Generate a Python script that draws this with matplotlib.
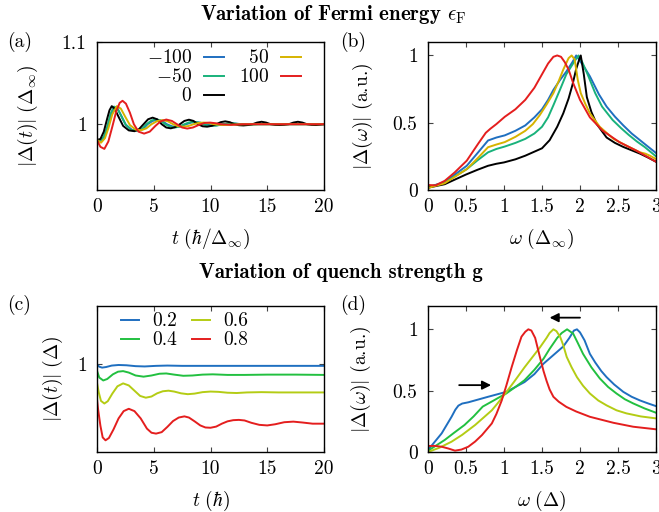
import matplotlib
matplotlib.use('Agg')
import matplotlib.pyplot as plt
import matplotlib.ticker as mticker

plt.rcParams.update({
    'font.family': 'cmr10',
    'mathtext.fontset': 'cm',
    'axes.unicode_minus': False,
    'font.size': 14,
    'axes.linewidth': 1.0,
    'xtick.direction': 'in',
    'ytick.direction': 'in',
    'xtick.top': True,
    'ytick.right': True,
    'xtick.major.size': 3.5,
    'ytick.major.size': 3.5,
    'xtick.major.pad': 6,
    'ytick.major.pad': 7.5,
    'xtick.color': '#444444',
    'ytick.color': '#444444',
    'xtick.labelcolor': 'black',
    'ytick.labelcolor': 'black',
})

BLUE = '#1f6fc0'
TEAL = '#19b27b'
GOLD = '#d6b300'
RED = '#e41e1e'
GREEN = '#22c040'
LIME = '#b4cc14'

# ---- (a) |Delta(t)| for several Fermi energies ----
ef_labels = [r'$-100$', r'$\hspace{0.5}{-50}$', r'$\hspace{1.78}0$', r'$\hspace{0.5}50$', r'$100$']

t_a_m100 = [0, 0.3, 0.6, 0.9, 1.25, 1.55, 1.85, 2.15, 2.55, 3.1, 3.65, 4.05, 4.45, 4.9, 5.35, 5.75, 6.15,
            6.6, 7.0, 7.4, 7.85, 8.3, 8.7, 9.1, 9.55, 10.0, 10.4, 10.8, 11.2, 12.0, 12.8, 20]
d_a_m100 = [0.981, 0.979, 0.983, 0.994, 1.012, 1.021, 1.018, 1.010, 0.999, 0.993, 0.9925, 0.994, 1.0, 1.004,
            1.0055, 1.004, 1.0, 0.9975, 0.9965, 0.9975, 1.0, 1.002, 1.0025, 1.002, 1.0, 0.9988, 0.9985, 0.999,
            1.0, 1.001, 1.0, 1.0]

t_a_m50 = [0, 0.3, 0.6, 0.9, 1.2, 1.5, 1.8, 2.1, 2.5, 3.0, 3.55, 3.95, 4.35, 4.8, 5.2, 5.6, 6.0, 6.45, 6.85,
           7.25, 7.7, 8.1, 8.5, 8.9, 9.3, 9.75, 10.15, 10.55, 11.0, 11.8, 12.6, 13.4, 14.2, 20]
d_a_m50 = [0.981, 0.980, 0.985, 0.997, 1.013, 1.0215, 1.019, 1.011, 1.0, 0.993, 0.992, 0.994, 1.0, 1.0045,
           1.006, 1.0045, 1.0, 0.997, 0.996, 0.997, 1.0, 1.0022, 1.003, 1.0022, 1.0, 0.9985, 0.998, 0.9985,
           1.0, 1.0015, 1.0, 0.999, 1.0, 1.0]

t_a_0 = [0, 0.3, 0.6, 0.9, 1.1, 1.3, 1.55, 1.9, 2.3, 2.8, 3.3, 3.7, 4.1, 4.5, 4.9, 5.3, 5.7, 6.1, 6.5, 6.9,
         7.3, 7.7, 8.1, 8.5, 8.9, 9.3, 9.7, 10.1, 10.5, 10.9, 11.3, 11.7, 12.1, 12.5, 12.9, 13.3, 13.7, 14.1,
         14.5, 14.9, 15.3, 15.7, 16.1, 16.5, 16.9, 17.3, 17.7, 18.1, 18.5, 18.9, 19.3, 19.7, 20]
d_a_0 = [0.981, 0.982, 0.991, 1.007, 1.017, 1.022, 1.019, 1.009, 0.998, 0.9925, 0.9915, 0.994, 1.0, 1.006,
         1.008, 1.006, 1.0, 0.996, 0.995, 0.9965, 1.0, 1.004, 1.0055, 1.004, 1.0, 0.9975, 0.997, 0.998, 1.0,
         1.0025, 1.0035, 1.0025, 1.0, 0.9988, 0.9985, 0.999, 1.0, 1.002, 1.003, 1.002, 1.0, 0.9992, 0.999,
         0.9993, 1.0, 1.002, 1.003, 1.002, 1.0, 0.9992, 0.999, 0.9995, 1.0]

t_a_50 = [0, 0.35, 0.7, 1.0, 1.35, 1.75, 2.1, 2.45, 2.9, 3.4, 3.9, 4.35, 4.8, 5.3, 5.8, 6.25, 6.7, 7.15, 7.6,
          8.05, 8.5, 8.95, 9.4, 9.85, 10.3, 11.1, 11.9, 13, 20]
d_a_50 = [0.981, 0.9775, 0.983, 0.995, 1.012, 1.022, 1.019, 1.010, 0.999, 0.9935, 0.9927, 0.995, 1.0, 1.0038,
          1.005, 1.0035, 1.0, 0.9975, 0.997, 0.9978, 1.0, 1.0015, 1.002, 1.0015, 1.0, 0.999, 0.9995, 1.0, 1.0]

t_a_100 = [0, 0.3, 0.65, 1.0, 1.35, 1.7, 2.0, 2.25, 2.55, 2.9, 3.25, 3.65, 4.15, 4.65, 5.15, 5.6, 6.1, 6.6,
           7.05, 7.5, 7.95, 8.45, 8.95, 9.45, 9.95, 10.45, 10.9, 11.8, 12.8, 20]
d_a_100 = [0.9805, 0.9725, 0.970, 0.979, 0.997, 1.016, 1.026, 1.0285, 1.025, 1.014, 1.0, 0.991, 0.9886, 0.991,
           0.998, 1.0035, 1.0057, 1.004, 1.0, 0.996, 0.9947, 0.996, 0.999, 1.0015, 1.002, 1.0012, 1.0, 0.9992,
           1.0, 1.0]

# ---- (b) |Delta(omega)| for several Fermi energies ----
w_b_m100 = [0, 0.22, 0.51, 0.66, 0.79, 0.9, 1.01, 1.15, 1.28, 1.4, 1.5, 1.58, 1.65, 1.74, 1.82, 1.9, 1.95,
            2.0, 2.07, 2.13, 2.25, 2.35, 2.46, 2.57, 2.68, 2.79, 2.9, 3.0]
s_b_m100 = [0.02, 0.06, 0.18, 0.28, 0.368, 0.39, 0.406, 0.44, 0.48, 0.54, 0.60, 0.67, 0.744, 0.82, 0.88, 0.95,
            1.0, 0.96, 0.9, 0.845, 0.71, 0.62, 0.545, 0.48, 0.42, 0.37, 0.32, 0.275]
w_b_m50 = [0, 0.22, 0.51, 0.65, 0.79, 0.9, 1.01, 1.15, 1.28, 1.4, 1.5, 1.58, 1.65, 1.74, 1.82, 1.92, 1.98,
           2.03, 2.1, 2.2, 2.29, 2.43, 2.54, 2.64, 2.75, 2.85, 3.0]
s_b_m50 = [0.02, 0.055, 0.155, 0.22, 0.28, 0.305, 0.323, 0.35, 0.38, 0.42, 0.47, 0.54, 0.63, 0.75, 0.86, 0.95,
           1.0, 0.95, 0.86, 0.72, 0.62, 0.52, 0.46, 0.41, 0.36, 0.32, 0.25]
w_b_0 = [0, 0.22, 0.5, 0.65, 0.79, 0.9, 1.0, 1.15, 1.28, 1.4, 1.5, 1.6, 1.7, 1.78, 1.85, 1.9, 1.95, 1.99,
         2.01, 2.05, 2.09, 2.15, 2.22, 2.35, 2.46, 2.57, 2.68, 2.79, 2.9, 3.0]
s_b_0 = [0.017, 0.043, 0.115, 0.15, 0.18, 0.195, 0.205, 0.228, 0.255, 0.285, 0.31, 0.37, 0.47, 0.57, 0.68,
         0.78, 0.9, 0.97, 1.0, 0.86, 0.69, 0.58, 0.49, 0.39, 0.35, 0.32, 0.295, 0.27, 0.24, 0.21]
w_b_50 = [0, 0.22, 0.51, 0.66, 0.79, 0.9, 1.01, 1.15, 1.28, 1.38, 1.47, 1.56, 1.65, 1.72, 1.78, 1.85, 1.89,
          1.93, 1.97, 2.01, 2.07, 2.13, 2.26, 2.44, 2.61, 2.79, 2.86, 2.92, 3.0]
s_b_50 = [0.015, 0.05, 0.155, 0.24, 0.318, 0.338, 0.356, 0.395, 0.44, 0.49, 0.556, 0.635, 0.72, 0.81, 0.895,
          0.98, 1.0, 0.97, 0.82, 0.72, 0.64, 0.57, 0.47, 0.38, 0.33, 0.28, 0.27, 0.255, 0.23]
w_b_100 = [0, 0.1, 0.22, 0.35, 0.51, 0.66, 0.76, 0.82, 0.9, 1.01, 1.15, 1.28, 1.4, 1.5, 1.58, 1.65, 1.7, 1.75,
           1.8, 1.85, 1.91, 2.0, 2.13, 2.3, 2.52, 2.74, 3.0]
s_b_100 = [0.037, 0.035, 0.068, 0.13, 0.218, 0.344, 0.425, 0.455, 0.49, 0.544, 0.60, 0.67, 0.76, 0.86, 0.94,
           0.99, 1.0, 0.99, 0.95, 0.895, 0.795, 0.67, 0.54, 0.44, 0.355, 0.293, 0.21]

# ---- (c) |Delta(t)| for several quench strengths ----
g_labels = ['0.2', '0.4', '0.6', '0.8']

t_c_02 = [0, 0.2, 0.45, 0.8, 1.3, 1.9, 2.6, 3.4, 4.2, 5.2, 6.2, 7.5, 9, 11, 14, 17, 20]
d_c_02 = [1.0, 0.992, 0.989, 0.991, 0.996, 0.998, 0.997, 0.994, 0.993, 0.995, 0.996, 0.995, 0.995, 0.995,
          0.995, 0.995, 0.995]
t_c_04 = [0, 0.2, 0.55, 0.9, 1.4, 1.85, 2.3, 2.8, 3.4, 4.1, 4.8, 5.5, 6.1, 6.8, 7.6, 8.4, 9.3, 10.2, 11.5,
          13, 15, 17.5, 20]
d_c_04 = [0.978, 0.955, 0.945, 0.950, 0.966, 0.975, 0.977, 0.972, 0.962, 0.958, 0.962, 0.968, 0.969, 0.965,
          0.961, 0.962, 0.965, 0.966, 0.964, 0.964, 0.965, 0.965, 0.964]
t_c_06 = [0, 0.15, 0.35, 0.65, 0.95, 1.35, 1.8, 2.3, 2.8, 3.3, 3.8, 4.3, 4.8, 5.3, 5.8, 6.3, 6.8, 7.4, 8.0,
          8.6, 9.3, 10.0, 10.7, 11.5, 12.3, 13.2, 14.5, 16, 18, 20]
d_c_06 = [0.937, 0.905, 0.875, 0.866, 0.874, 0.900, 0.925, 0.935, 0.928, 0.910, 0.892, 0.886, 0.890, 0.901,
          0.908, 0.910, 0.907, 0.901, 0.898, 0.900, 0.905, 0.907, 0.906, 0.903, 0.902, 0.904, 0.905, 0.904,
          0.904, 0.904]
t_c_08 = [0, 0.1, 0.3, 0.5, 0.75, 1.05, 1.45, 1.9, 2.35, 2.8, 3.3, 3.85, 4.4, 4.8, 5.2, 5.7, 6.2, 6.7, 7.2,
          7.7, 8.1, 8.6, 9.1, 9.55, 10.0, 10.5, 11.0, 11.5, 12.0, 12.5, 13.0, 13.6, 14.3, 15.0, 15.7, 16.5,
          17.3, 18.1, 19.0, 20]
d_c_08 = [0.880, 0.845, 0.790, 0.750, 0.740, 0.748, 0.777, 0.815, 0.840, 0.848, 0.840, 0.815, 0.780, 0.766,
          0.763, 0.768, 0.786, 0.806, 0.818, 0.822, 0.818, 0.805, 0.791, 0.784, 0.783, 0.787, 0.797, 0.805,
          0.809, 0.810, 0.808, 0.800, 0.793, 0.791, 0.795, 0.802, 0.804, 0.801, 0.797, 0.797]

# ---- (d) |Delta(omega)| for several quench strengths ----
w_d_02 = [0, 0.18, 0.31, 0.36, 0.4, 0.45, 0.53, 0.79, 1.03, 1.27, 1.4, 1.52, 1.65, 1.78, 1.86, 1.92, 1.96,
          2.0, 2.06, 2.13, 2.2, 2.28, 2.35, 2.45, 2.57, 2.68, 2.79, 2.9, 3.0]
s_d_02 = [0.016, 0.152, 0.287, 0.345, 0.378, 0.395, 0.405, 0.45, 0.49, 0.57, 0.635, 0.72, 0.79, 0.86, 0.93,
          0.99, 1.0, 0.975, 0.91, 0.80, 0.73, 0.66, 0.61, 0.55, 0.49, 0.45, 0.42, 0.395, 0.374]
w_d_04 = [0, 0.22, 0.35, 0.48, 0.6, 0.72, 0.85, 0.95, 1.03, 1.15, 1.27, 1.4, 1.52, 1.6, 1.7, 1.76, 1.83, 1.91,
          1.97, 2.04, 2.15, 2.26, 2.37, 2.48, 2.59, 2.7, 2.85, 3.0]
s_d_04 = [0.01, 0.098, 0.16, 0.22, 0.29, 0.37, 0.415, 0.45, 0.477, 0.53, 0.585, 0.67, 0.76, 0.84, 0.93, 0.97,
          1.0, 0.965, 0.89, 0.80, 0.69, 0.60, 0.53, 0.477, 0.43, 0.396, 0.355, 0.32]
w_d_06 = [0, 0.15, 0.31, 0.45, 0.62, 0.73, 0.84, 0.92, 1.0, 1.13, 1.27, 1.37, 1.47, 1.56, 1.6, 1.65, 1.69,
          1.74, 1.78, 1.825, 1.89, 1.96, 2.04, 2.13, 2.24, 2.35, 2.48, 2.61, 2.8, 3.0]
s_d_06 = [0.0, 0.035, 0.084, 0.14, 0.22, 0.28, 0.34, 0.40, 0.463, 0.57, 0.69, 0.77, 0.85, 0.93, 0.97, 1.0,
          0.985, 0.937, 0.87, 0.775, 0.69, 0.61, 0.54, 0.477, 0.42, 0.38, 0.34, 0.315, 0.29, 0.274]
w_d_08 = [0, 0.09, 0.18, 0.27, 0.355, 0.44, 0.53, 0.62, 0.71, 0.84, 0.9, 0.97, 1.03, 1.1, 1.17, 1.23, 1.28,
          1.32, 1.36, 1.41, 1.47, 1.52, 1.56, 1.6, 1.65, 1.72, 1.82, 1.95, 2.13, 2.44, 2.7, 3.0]
s_d_08 = [0.049, 0.05, 0.043, 0.028, 0.011, 0.02, 0.043, 0.085, 0.138, 0.233, 0.31, 0.42, 0.54, 0.69, 0.83,
          0.94, 0.98, 1.0, 0.99, 0.93, 0.78, 0.66, 0.58, 0.51, 0.45, 0.41, 0.368, 0.33, 0.287, 0.238, 0.206,
          0.185]

LW = 1.4
W, H = 659, 512


def rect(x0, y0, x1, y1):
    return [x0 / W, 1 - y1 / H, (x1 - x0) / W, (y1 - y0) / H]


fig = plt.figure(figsize=(6.59, 5.12), dpi=100)
ax_a = fig.add_axes(rect(97, 42, 324, 190))
ax_b = fig.add_axes(rect(428, 42, 656, 190))
ax_c = fig.add_axes(rect(97, 306, 324, 452))
ax_d = fig.add_axes(rect(428, 306, 656, 452))

# (a)
ax_a.plot(t_a_m100, d_a_m100, color=BLUE, lw=LW, label=ef_labels[0])
ax_a.plot(t_a_m50, d_a_m50, color=TEAL, lw=LW, label=ef_labels[1])
ax_a.plot(t_a_0, d_a_0, color='black', lw=LW, label=ef_labels[2])
ax_a.plot(t_a_50, d_a_50, color=GOLD, lw=LW, label=ef_labels[3])
ax_a.plot(t_a_100, d_a_100, color=RED, lw=LW, label=ef_labels[4])
ax_a.set_xlim(0, 20)
ax_a.set_ylim(0.92, 1.1)
ax_a.set_xticks([0, 5, 10, 15, 20])
ax_a.set_yticks([1, 1.1])
ax_a.set_xlabel(r'$t\ (\hbar/\Delta_\infty)$')
ax_a.set_ylabel(r'$|\Delta(t)|\ (\Delta_\infty)$')
ax_a.yaxis.set_label_coords(-0.251, 0.5)
ax_a.xaxis.set_label_coords(0.5, -0.25)
ax_a.legend(ncol=2, markerfirst=False, frameon=False, loc='upper left',
            bbox_to_anchor=(0.22, 0.95), borderaxespad=0, borderpad=0,
            handlelength=1.0, handletextpad=0.6, columnspacing=0.8, labelspacing=0.05)

# (b)
ax_b.plot(w_b_m100, s_b_m100, color=BLUE, lw=LW)
ax_b.plot(w_b_m50, s_b_m50, color=TEAL, lw=LW)
ax_b.plot(w_b_0, s_b_0, color='black', lw=LW)
ax_b.plot(w_b_50, s_b_50, color=GOLD, lw=LW)
ax_b.plot(w_b_100, s_b_100, color=RED, lw=LW)
ax_b.set_xlim(0, 3)
ax_b.set_ylim(0, 1.1)
ax_b.set_xticks([0, 0.5, 1, 1.5, 2, 2.5, 3])
ax_b.set_yticks([0, 0.5, 1])
ax_b.set_xlabel(r'$\omega\ (\Delta_\infty)$')
ax_b.set_ylabel(r'$|\Delta(\omega)|$ (a.u.)')
ax_b.yaxis.set_label_coords(-0.232, 0.5)
ax_b.xaxis.set_label_coords(0.5, -0.25)

# (c)
ax_c.plot(t_c_02, d_c_02, color=BLUE, lw=LW, label=g_labels[0])
ax_c.plot(t_c_04, d_c_04, color=GREEN, lw=LW, label=g_labels[1])
ax_c.plot(t_c_06, d_c_06, color=LIME, lw=LW, label=g_labels[2])
ax_c.plot(t_c_08, d_c_08, color=RED, lw=LW, label=g_labels[3])
ax_c.set_xlim(0, 20)
ax_c.set_ylim(0.7, 1.2)
ax_c.set_xticks([0, 5, 10, 15, 20])
ax_c.set_yticks([1])
ax_c.set_xlabel(r'$t\ (\hbar)$')
ax_c.set_ylabel(r'$|\Delta(t)|\ (\Delta)$')
ax_c.yaxis.set_label_coords(-0.141, 0.5)
ax_c.xaxis.set_label_coords(0.5, -0.25)
ax_c.legend(ncol=2, frameon=False, loc='upper left', bbox_to_anchor=(0.106, 0.955),
            borderaxespad=0, borderpad=0, handlelength=0.93, handletextpad=0.65,
            columnspacing=0.8, labelspacing=0.05)

# (d)
ax_d.plot(w_d_02, s_d_02, color=BLUE, lw=LW)
ax_d.plot(w_d_04, s_d_04, color=GREEN, lw=LW)
ax_d.plot(w_d_06, s_d_06, color=LIME, lw=LW)
ax_d.plot(w_d_08, s_d_08, color=RED, lw=LW)
ax_d.set_xlim(0, 3)
ax_d.set_ylim(0, 1.19)
ax_d.set_xticks([0, 0.5, 1, 1.5, 2, 2.5, 3])
ax_d.set_yticks([0, 0.5, 1])
ax_d.set_xlabel(r'$\omega\ (\Delta)$')
ax_d.set_ylabel(r'$|\Delta(\omega)|$ (a.u.)')
ax_d.yaxis.set_label_coords(-0.24, 0.5)
ax_d.xaxis.set_label_coords(0.5, -0.25)
ax_d.annotate('', xy=(0.83, 0.545), xytext=(0.41, 0.545),
              arrowprops=dict(arrowstyle='-|>', color='black', lw=1.3, mutation_scale=13, shrinkA=0, shrinkB=0))
ax_d.annotate('', xy=(1.6, 1.095), xytext=(2.0, 1.095),
              arrowprops=dict(arrowstyle='-|>', color='black', lw=1.3, mutation_scale=13, shrinkA=0, shrinkB=0))

fmt = mticker.FormatStrFormatter('%g')
for ax in (ax_a, ax_b, ax_c, ax_d):
    ax.xaxis.set_major_formatter(fmt)
    ax.yaxis.set_major_formatter(fmt)

fig.text(333 / W, 1 - 15 / H, r'Variation of Fermi energy $\epsilon_{\rm F}$', fontfamily='cmb10',
         fontsize=15, ha='center', va='center')
fig.text(341 / W, 1 - 273 / H, 'Variation of quench strength g', fontfamily='cmb10',
         fontsize=15, ha='center', va='center')
for lab, x, y in [('(a)', 7, 42), ('(b)', 340, 42), ('(c)', 7, 305), ('(d)', 340, 305)]:
    fig.text(x / W, 1 - y / H, lab, ha='left', va='center')

fig.savefig('out.png', dpi=100)
